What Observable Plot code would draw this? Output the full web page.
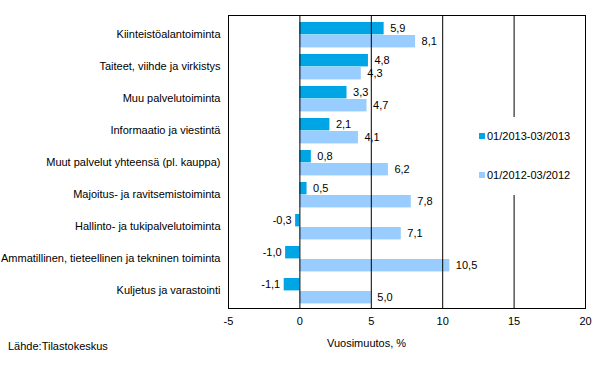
<!DOCTYPE html>
<html>
<head>
<meta charset="utf-8">
<script src="https://cdn.jsdelivr.net/npm/d3@7"></script>
<script src="https://cdn.jsdelivr.net/npm/@observablehq/plot@0.6"></script>
<style>
  html, body { margin: 0; padding: 0; background: #fff; }
  #wrap { position: relative; width: 600px; height: 373px; font-family: Arial, "Liberation Sans", sans-serif; font-size: 11px; color: #000; }
  #wrap svg { position: absolute; left: 0; top: 0; }
  .legend { position: absolute; left: 472px; top: 117px; width: 110px; height: 78px; background: #fff; }
  .item { position: absolute; left: 7px; white-space: nowrap; line-height: 13px; }
  .sw { display: inline-block; width: 6px; height: 6px; margin-right: 2px; vertical-align: 1px; }
  .xlabel { position: absolute; left: 327px; top: 337px; white-space: nowrap; }
  .source { position: absolute; left: 8px; top: 340px; white-space: nowrap; }
</style>
</head>
<body>
<div id="wrap"></div>
<script>
const categories = [
  "Kiinteistöalantoiminta",
  "Taiteet, viihde ja virkistys",
  "Muu palvelutoiminta",
  "Informaatio ja viestintä",
  "Muut palvelut yhteensä (pl. kauppa)",
  "Majoitus- ja ravitsemistoiminta",
  "Hallinto- ja tukipalvelutoiminta",
  "Ammatillinen, tieteellinen ja tekninen toiminta",
  "Kuljetus ja varastointi"
];
const series = ["01/2013-03/2013", "01/2012-03/2012"];
const values2013 = [5.9, 4.8, 3.3, 2.1, 0.8, 0.5, -0.3, -1.0, -1.1];
const values2012 = [8.1, 4.3, 4.7, 4.1, 6.2, 7.8, 7.1, 10.5, 5.0];
const xTicks = [-5, 0, 5, 10, 15, 20];
const gridValues = [0, 5, 10, 15];
const colors = ["#00A5E6", "#99CCFF"];
const source = "Lähde:Tilastokeskus";
const xTitle = "Vuosimuutos, %";

const d13 = categories.map((c, i) => ({category: c, value: values2013[i]}));
const d12 = categories.map((c, i) => ({category: c, value: values2012[i]}));
const fmt = v => d3.format(".1f")(v).replace(".", ",").replace("−", "-");

function labels(data, dy) {
  return [
    Plot.text(data.filter(d => d.value >= 0), {x: "value", y: "category", text: d => fmt(d.value), textAnchor: "start", dx: 6, dy, fill: "black"}),
    Plot.text(data.filter(d => d.value < 0), {x: "value", y: "category", text: d => fmt(d.value), textAnchor: "end", dx: -4, dy, fill: "black"})
  ];
}

const chart = Plot.plot({
  width: 600,
  height: 373,
  marginTop: 15,
  marginBottom: 65,
  marginLeft: 228,
  marginRight: 15,
  style: {fontFamily: "Arial, 'Liberation Sans', sans-serif", fontSize: "11px", color: "black", background: "white"},
  x: {domain: [-5, 20], ticks: xTicks, tickSize: 0, tickPadding: 9, tickFormat: d => String(d), label: null},
  y: {domain: categories, padding: 0, tickSize: 0, tickPadding: 8, label: null},
  marks: [
    Plot.barX(d13, {x: "value", y: "category", fill: colors[0], insetTop: 4, insetBottom: 15.6}),
    Plot.barX(d12, {x: "value", y: "category", fill: colors[1], insetTop: 17, insetBottom: 2.6}),
    Plot.ruleX(gridValues, {stroke: "black", strokeWidth: 1}),
    ...labels(d13, -5.8),
    ...labels(d12, 7.2),
    Plot.frame({stroke: "black", strokeWidth: 1})
  ]
});

const wrap = document.getElementById("wrap");
wrap.appendChild(chart);

const legend = document.createElement("div");
legend.className = "legend";
series.forEach((s, i) => {
  const it = document.createElement("div");
  it.className = "item";
  it.style.top = (i === 0 ? 13 : 52) + "px";
  const sw = document.createElement("span");
  sw.className = "sw";
  sw.style.background = colors[i];
  it.appendChild(sw);
  it.appendChild(document.createTextNode(s));
  legend.appendChild(it);
});
wrap.appendChild(legend);

const xl = document.createElement("div");
xl.className = "xlabel";
xl.textContent = xTitle;
wrap.appendChild(xl);

const src = document.createElement("div");
src.className = "source";
src.textContent = source;
wrap.appendChild(src);
</script>
</body>
</html>
